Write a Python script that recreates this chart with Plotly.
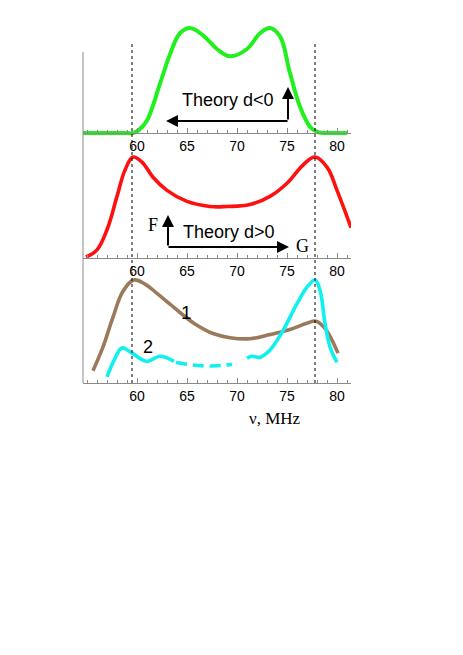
import plotly.graph_objects as go

# ---------------- data (MHz, relative amplitude) ----------------
green_x = [54.6, 57.0, 59.0, 59.6, 60.2, 61.0, 62.3, 63.3, 64.3, 65.3, 66.6, 68.0, 69.3,
           71.0, 72.3, 73.3, 74.3, 75.3, 76.3, 77.3, 78.0, 78.8, 80.0, 81.0]
green_y = [0.0, 0.0, 0.0, 0.0, 0.03, 0.12, 0.47, 0.75, 0.95, 1.0, 0.93, 0.80, 0.73,
           0.80, 0.95, 1.0, 0.92, 0.57, 0.25, 0.06, 0.01, 0.0, 0.0, 0.0]

red_x = [54.9, 56.0, 57.0, 58.0, 58.8, 59.6, 60.5, 61.6, 63.0, 65.0, 67.3, 69.0, 71.3,
         73.3, 75.0, 76.6, 77.8, 79.0, 80.0, 81.0, 81.4]
red_y = [0.01, 0.08, 0.28, 0.61, 0.87, 1.0, 0.95, 0.80, 0.67, 0.56, 0.51, 0.51, 0.53,
         0.61, 0.74, 0.92, 1.0, 0.90, 0.67, 0.41, 0.30]

brown_x = [55.6, 56.6, 57.6, 58.6, 59.7, 60.8, 62.0, 63.3, 64.6, 66.0, 67.6, 69.3, 71.3,
           73.3, 75.3, 77.0, 77.9, 78.8, 80.1]
brown_y = [0.12, 0.35, 0.64, 0.89, 1.0, 0.96, 0.87, 0.765, 0.66, 0.56, 0.48, 0.44, 0.43,
           0.47, 0.52, 0.58, 0.60, 0.53, 0.29]

cyan1_x = [57.0, 57.8, 58.5, 59.5, 61.0, 62.3, 63.7]
cyan1_y = [0.06, 0.24, 0.34, 0.29, 0.21, 0.26, 0.21]
cyan_dash_x = [63.9, 65.5, 67.5, 69.5]
cyan_dash_y = [0.20, 0.175, 0.165, 0.18]
cyan2_x = [71.0, 71.5, 72.3, 73.3, 74.6, 76.0, 77.0, 77.8, 78.3, 78.8, 79.3, 80.0]
cyan2_y = [0.24, 0.26, 0.25, 0.32, 0.51, 0.77, 0.93, 1.0, 0.90, 0.58, 0.35, 0.20]

marker_lines = [59.5, 77.8]
tick_vals = [60, 65, 70, 75, 80]
tick_text = ["60", "65", "70", "75", "80"]
x_range = [54.6, 81.4]

# ---------------- layout helpers (pixels) ----------------
W, H = 463, 655
def px(x):
    return x / W
def py(y):
    return 1 - y / H

X_LEFT, X_RIGHT = 83, 351
# (baseline pixel, peak pixel, top pixel of domain)
panels = [(133, 28, 15), (258, 157, 148), (383, 280, 270)]

fig = go.Figure()

def add(xs, ys, color, i, width=3.6, dash=None):
    fig.add_trace(go.Scatter(
        x=xs, y=ys, mode="lines",
        line=dict(color=color, width=width, shape="spline", smoothing=1.1, dash=dash),
        xaxis="x" if i == 1 else f"x{i}", yaxis="y" if i == 1 else f"y{i}",
        showlegend=False, hoverinfo="skip"))

add(green_x, green_y, "#22F01E", 1, 4)
add(red_x, red_y, "#FF1010", 2, 3.6)
add(brown_x, brown_y, "#9B7A5C", 3, 3.6)
add(cyan1_x, cyan1_y, "#10F0F0", 3, 3.6)
add(cyan_dash_x, cyan_dash_y, "#10F0F0", 3, 3.6, dash="11px,6px")
add(cyan2_x, cyan2_y, "#10F0F0", 3, 3.6)

layout = dict(width=W, height=H, margin=dict(l=0, r=0, t=0, b=0),
              paper_bgcolor="white", plot_bgcolor="rgba(0,0,0,0)")

for i, (base, peak, top) in enumerate(panels, start=1):
    unit = base - peak
    bottom = base + 6
    ya = dict(domain=[py(bottom), py(top)],
              range=[-(bottom - base) / unit, (base - top) / unit],
              visible=False, showgrid=False, zeroline=False, fixedrange=True)
    xa = dict(domain=[px(X_LEFT), px(X_RIGHT)], range=x_range,
              anchor="free", position=py(base),
              showline=True, linecolor="#8A8A8A", linewidth=1,
              ticks="inside", ticklen=5, tickcolor="#8A8A8A", tickwidth=1,
              tickvals=tick_vals, ticktext=tick_text,
              minor=dict(dtick=1, tick0=0, ticks="inside", ticklen=3,
                         tickcolor="#8A8A8A", showgrid=False),
              tickfont=dict(family="Liberation Sans, Arial", size=14, color="black"),
              showgrid=False, zeroline=False, fixedrange=True)
    if i > 1:
        ya["anchor"] = f"x{i}"
    layout["yaxis" if i == 1 else f"yaxis{i}"] = ya
    layout["xaxis" if i == 1 else f"xaxis{i}"] = xa

fig.update_layout(**layout)

# vertical left axis and dotted marker lines
shapes = [dict(type="line", xref="paper", yref="paper", x0=px(X_LEFT), x1=px(X_LEFT),
               y0=py(52), y1=py(383), line=dict(color="#8A8A8A", width=1))]
for v in marker_lines:
    shapes.append(dict(type="line", xref="x", yref="paper", x0=v, x1=v,
                       y0=py(383), y1=py(41), line=dict(color="black", width=1, dash="dot")))
fig.update_layout(shapes=shapes)

ann = []
def arrow(hx, hy, tx, ty):
    ann.append(dict(xref="paper", yref="paper", x=px(hx), y=py(hy),
                    axref="pixel", ayref="pixel", ax=tx - hx, ay=ty - hy,
                    text="", showarrow=True, arrowhead=2, arrowsize=1.2,
                    arrowwidth=2, arrowcolor="black"))
def label(x, y, t, size, family="Liberation Sans, Arial"):
    ann.append(dict(xref="paper", yref="paper", x=px(x), y=py(y), text=t,
                    showarrow=False, xanchor="center", yanchor="middle",
                    font=dict(family=family, size=size, color="black")))

arrow(288, 87, 288, 121)
arrow(166, 121, 289, 121)
arrow(168, 215, 168, 247)
arrow(289, 247, 167, 247)

label(228, 100, "Theory d&lt;0", 18)
label(229, 232, "Theory d&gt;0", 18)
label(153, 225, "F", 18, "Liberation Serif, Times New Roman")
label(302, 246, "G", 18, "Liberation Serif, Times New Roman")
label(186, 312, "1", 19)
label(148, 347, "2", 18)
label(275, 418, "ν, MHz", 17, "Liberation Serif, Times New Roman")
fig.update_layout(annotations=ann)

fig.write_html("out.html", config={"displayModeBar": False},
               post_script="document.body.style.margin='0';document.body.style.overflow='hidden';")
